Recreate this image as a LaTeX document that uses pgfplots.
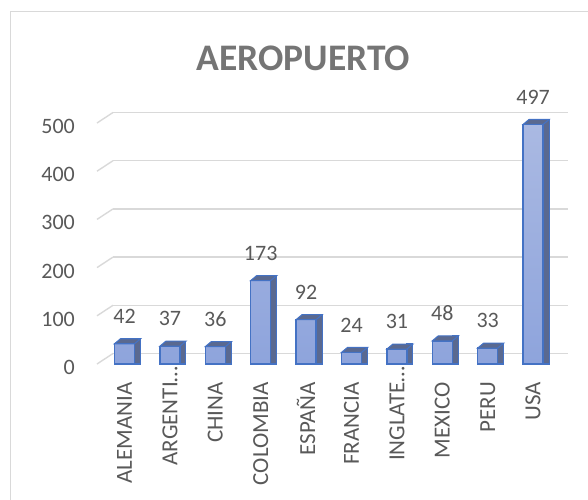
\documentclass[border=0pt]{standalone}
\usepackage{fontspec}
\setmainfont{Carlito}
\usepackage{pgfplots}
\usepackage{pgfplotstable}
\pgfplotsset{compat=1.18}
\definecolor{gridgray}{HTML}{D9D9D9}
\definecolor{txtgray}{HTML}{595959}
\definecolor{titlegray}{HTML}{757575}
\definecolor{barblue}{HTML}{4472C4}
\definecolor{barside}{HTML}{5A6990}
\definecolor{bartop}{HTML}{AAB9E2}
\definecolor{barbot}{HTML}{8EA4DC}
\pgfdeclareplotmark{topface}{%
  \pgfpathmoveto{\pgfpoint{-10pt}{0pt}}%
  \pgfpathlineto{\pgfpoint{10pt}{0pt}}%
  \pgfpathlineto{\pgfpoint{16pt}{5pt}}%
  \pgfpathlineto{\pgfpoint{-4pt}{5pt}}%
  \pgfpathclose
  \pgfusepathqfillstroke}
\pgfplotstableread{
i v
0 42
1 37
2 36
3 173
4 92
5 24
6 31
7 48
8 33
9 497
}\data
\begin{document}
\begin{tikzpicture}
\useasboundingbox (0pt,0pt) rectangle (588pt,499pt);
\draw[gridgray, line width=1pt] (10.5pt,-10pt) rectangle (600pt,487pt);
\node[font=\bfseries\fontsize{37.5}{44}\selectfont, text=titlegray, inner sep=0pt] at (303.5pt,440.5pt) {AEROPUERTO};
\begin{axis}[
  name=ax,
  at={(97pt,135pt)}, anchor=south west,
  scale only axis, width=455pt, height=241pt,
  xmin=-0.606, xmax=9.416, ymin=0, ymax=500,
  clip=false,
  axis line style={draw=none},
  major tick length=0pt,
  tick style={draw=none},
  /pgf/number format/assume math mode=true,
  ytick={0,100,200,300,400,500},
  ymajorgrids,
  major grid style={draw=gridgray, line width=1.4pt, xshift=16pt, yshift=10.5pt},
  yticklabel style={font=\fontsize{22}{26}\selectfont, text=txtgray, anchor=east, inner sep=0pt, xshift=-22pt, yshift=-3.5pt},
  xtick={0,...,9},
  xticklabels={ALEMANIA, ARGENTI\rlap{…}, CHINA, COLOMBIA, ESPAÑA, FRANCIA, INGLATE\rlap{…}, MEXICO, PERU, USA},
  xticklabel style={font=\fontsize{23}{27}\selectfont, text=txtgray, rotate=90, anchor=east, inner sep=0pt},
  xticklabel shift=18pt,
]
\pgfplotsinvokeforeach{0,100,200,300,400,500}{
  \draw[gridgray, line width=1.4pt] (axis cs:-0.606,#1) -- ++(16pt,10.5pt);
}
\addplot[ybar, bar width=6pt, bar shift=13pt, fill=barside, draw=barblue, line width=1.1pt]
  table[x=i, y expr=\thisrow{v}+10.4] {\data};
\addplot[ybar, bar width=20pt, bar shift=0pt, top color=bartop, bottom color=barbot, draw=barblue, line width=1.3pt,
  nodes near coords,
  every node near coord/.append style={font=\fontsize{22}{26}\selectfont, text=txtgray, anchor=south, inner sep=0pt, yshift=19.5pt}]
  table[x=i, y=v] {\data};
\addplot[only marks, mark=topface, mark options={fill=barside, draw=barblue, line width=1.1pt}]
  table[x=i, y=v] {\data};
\end{axis}
\end{tikzpicture}
\end{document}
